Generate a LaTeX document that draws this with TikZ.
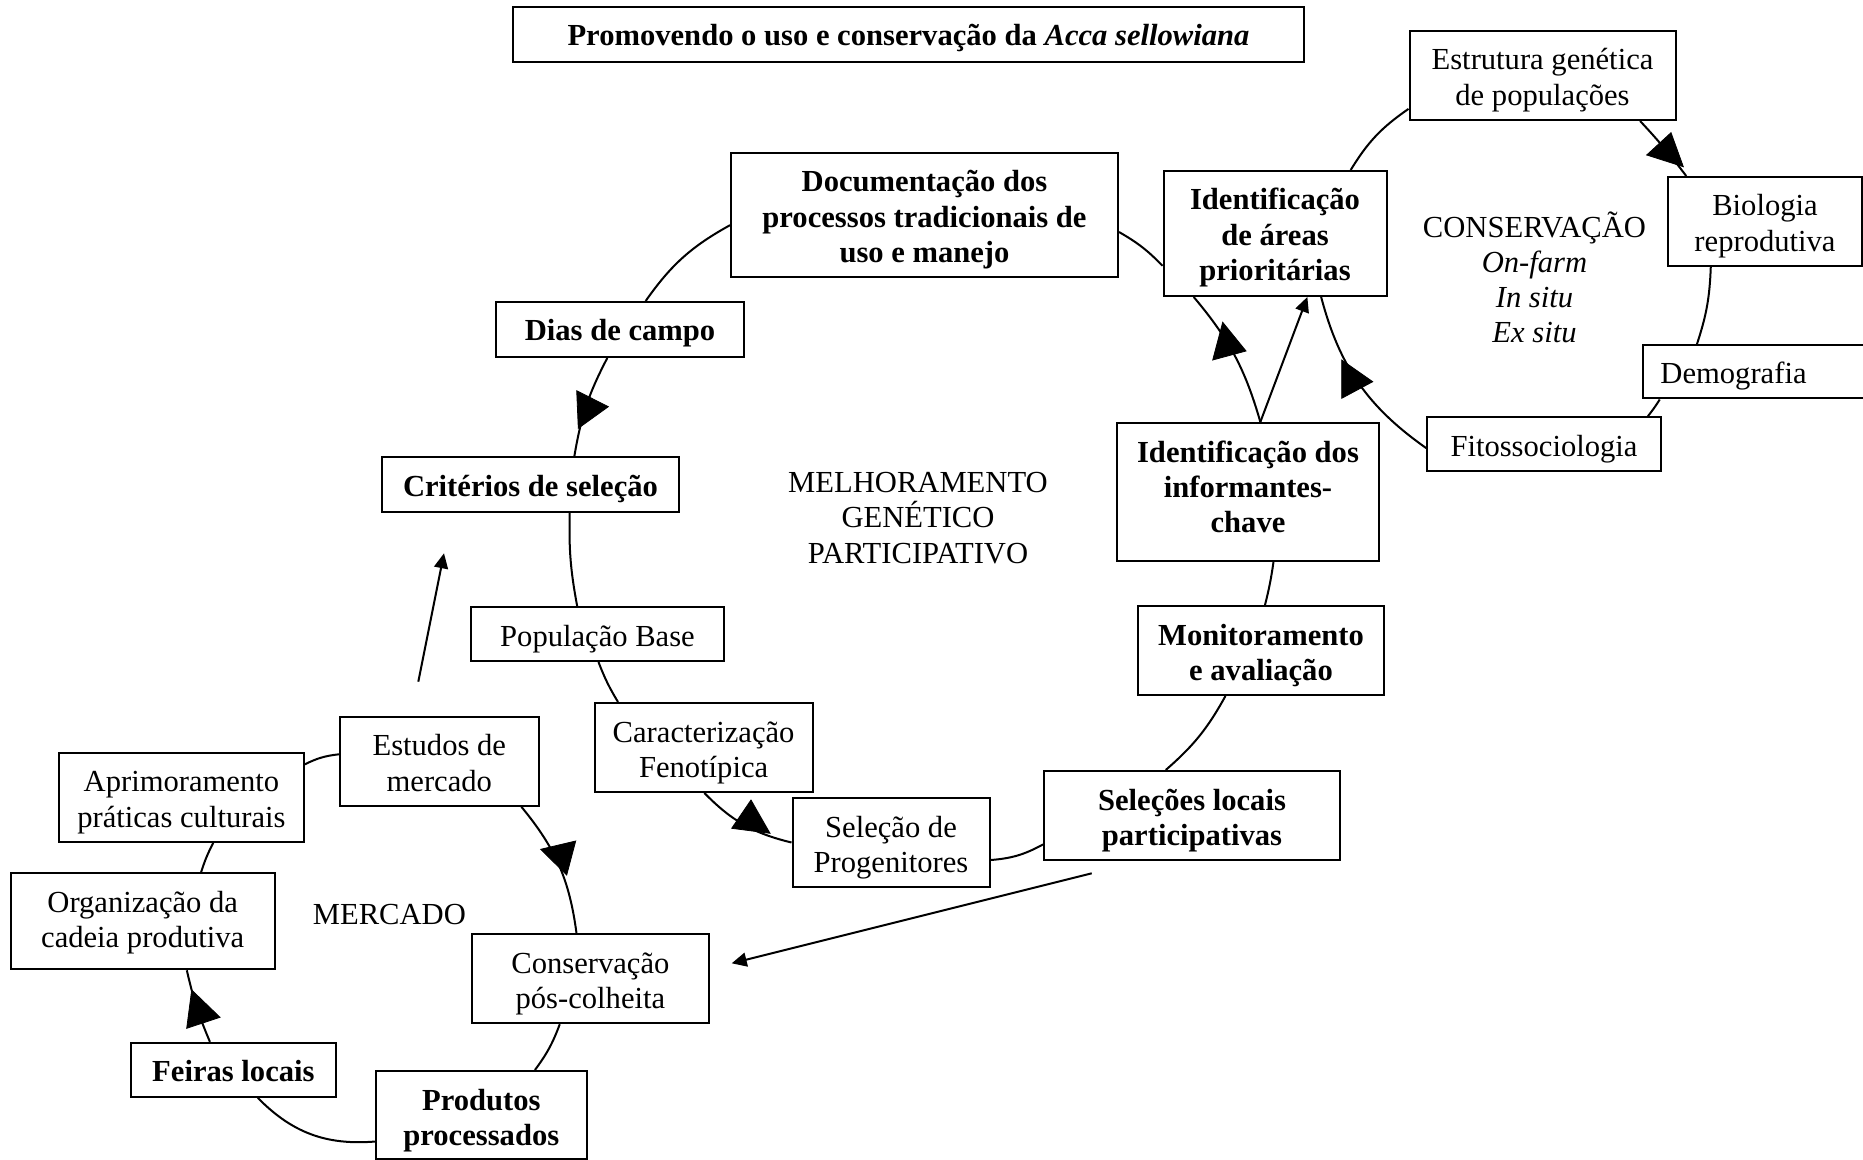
\documentclass[tikz,border=0pt]{standalone}
\usepackage{fontspec}
\setmainfont{Liberation Serif}
\usetikzlibrary{arrows.meta}
% text block anchored at the top of a box of the given height
\newcommand{\ctext}[2]{\vbox to #1{\kern5.5pt\halign{\hfil\vrule height14pt depth3.6pt width0pt\relax##\hfil\cr#2\crcr}\vss}}
\begin{document}
\begin{tikzpicture}[x=0.5pt,y=0.5pt,
  box/.style={draw, line width=1pt, inner sep=0pt, font=\fontsize{15.3pt}{17.6pt}\selectfont},
  bbox/.style={box, font=\fontsize{15.3pt}{17.6pt}\selectfont\bfseries},
  lbl/.style={align=center, inner sep=0pt, font=\fontsize{15.3pt}{17.6pt}\selectfont},
  link/.style={line width=1pt},
  head/.style={fill=black, draw=black, line width=0.4pt, line join=miter},
  arr/.style={line width=1pt, -{Triangle[length=7.5pt,width=7pt]}}]
\useasboundingbox (0,0) rectangle (1863,-1160);

% title
\node[bbox, minimum width=395.5pt, minimum height=27.5pt] (title) at (908.5,-34.5)
  {\ctext{27.5pt}{Promovendo o uso e conservação da \textit{Acca sellowiana}}};

% melhoramento cycle
\node[bbox, minimum width=193.5pt, minimum height=62pt] (doc) at (924.5,-215)
  {\ctext{62pt}{Documentação dos\cr processos tradicionais de\cr uso e manejo}};
\node[bbox, minimum width=124pt, minimum height=27.5pt] (dias) at (620,-329.5) {\ctext{27.5pt}{Dias de campo}};
\node[bbox, minimum width=148.5pt, minimum height=27.5pt] (crit) at (530.5,-484.5) {\ctext{27.5pt}{Critérios de seleção}};
\node[box, minimum width=126.5pt, minimum height=27pt] (popbase) at (597.5,-634) {\ctext{27pt}{População Base}};
\node[box, minimum width=109pt, minimum height=44.5pt] (carac) at (703.6,-747.5) {\ctext{44.5pt}{Caracterização\cr Fenotípica}};
\node[box, minimum width=98.5pt, minimum height=44.5pt] (selprog) at (891,-842.5) {\ctext{44.5pt}{Seleção de\cr Progenitores}};
\node[bbox, minimum width=148pt, minimum height=44.5pt] (sellocais) at (1192,-815.5) {\ctext{44.5pt}{Seleções locais\cr participativas}};
\node[bbox, minimum width=122.75pt, minimum height=44.5pt] (monit) at (1261,-650.5) {\ctext{44.5pt}{Monitoramento\cr e avaliação}};
\node[bbox, minimum width=131pt, minimum height=69pt] (inform) at (1248,-492) {\ctext{69pt}{Identificação dos\cr informantes-\cr chave}};
\node[bbox, minimum width=111.5pt, minimum height=62.5pt] (idareas) at (1275,-233.5) {\ctext{62.5pt}{Identificação\cr de áreas\cr prioritárias}};

% conservation cycle
\node[box, minimum width=133pt, minimum height=44.5pt] (estrut) at (1542.5,-75.5) {\ctext{44.5pt}{Estrutura genética\cr de populações}};
\node[box, minimum width=97pt, minimum height=44.5pt] (biol) at (1765,-221.5) {\ctext{44.5pt}{Biologia\cr reprodutiva}};
\node[box, minimum width=113.5pt, minimum height=26.75pt] (demog) at (1756.5,-371.75) {\ctext{26.75pt}{Demografia\kern23pt}};
\node[box, minimum width=116.8pt, minimum height=26.85pt] (fito) at (1544,-444) {\ctext{26.85pt}{Fitossociologia}};

% market cycle
\node[box, minimum width=99.3pt, minimum height=44.5pt] (estudos) at (439.3,-761.3) {\ctext{44.5pt}{Estudos de\cr mercado}};
\node[box, minimum width=122.5pt, minimum height=44.5pt] (aprim) at (181.4,-797.4) {\ctext{44.5pt}{Aprimoramento\cr práticas culturais}};
\node[box, minimum width=132pt, minimum height=48pt] (organiz) at (142.7,-921.3) {\ctext{48pt}{Organização da\cr cadeia produtiva}};
\node[box, minimum width=118.9pt, minimum height=44.4pt] (conspos) at (590.4,-978.8) {\ctext{44.4pt}{Conservação\cr pós-colheita}};
\node[bbox, minimum width=102.5pt, minimum height=27pt] (feiras) at (233.4,-1069.8) {\ctext{27pt}{Feiras locais}};
\node[bbox, minimum width=105.5pt, minimum height=44pt] (produtos) at (481.3,-1115) {\ctext{44pt}{Produtos\cr processados}};

% free labels
\node[lbl] (melh) at (918,-518) {MELHORAMENTO\\GENÉTICO\\PARTICIPATIVO};
\node[lbl] (cons) at (1534.5,-277.5) {CONSERVAÇÃO\\\textit{On-farm}\\\textit{In situ}\\\textit{Ex situ}};
\node[lbl] (merc) at (389.4,-914.8) {MERCADO};

% melhoramento connectors
\draw[link] (doc.183) to[bend right=13] (dias.48);
\draw[link] (dias.246) to[bend right=9] (crit.33);
\draw[link] (crit.324) to[bend right=6] (popbase.126);
\draw[link] (popbase.272) to[bend right=5] (carac.152);
\draw[link] (carac.271) to[bend right=16] (selprog.180);
\draw[link] (selprog.350) to[bend right=12] (sellocais.191);
\draw[link] (sellocais.120) to[bend right=10] (monit.232);
\draw[link] (monit.85) to[bend right=3] (inform.290);
\draw[link] (inform.80) to[bend right=12] (idareas.218);
\draw[arr] (inform.80) -- (idareas.297);
\draw[link] (idareas.196) to[bend right=8] (doc.355);

% conservation connectors
\draw[link] (idareas.40) to[bend left=12] (estrut.194);
\draw[link] (estrut.335) to[bend left=3] (biol.150);
\draw[link] (biol.220) to[bend left=8] (demog.155);
\draw[link] (demog.196) to[bend left=3] (fito.15);
\draw[link] (fito.182) to[bend left=20] (idareas.306);

% market connectors
\draw[link] (aprim.15) to[bend left=10] (estudos.176);
\draw[link] (organiz.40) to[bend left=5] (aprim.305);
\draw[link] (feiras.130) to[bend left=5] (organiz.312);
\draw[link] (produtos.194) to[bend left=25] (feiras.311);
\draw[link] (conspos.236) to[bend left=8] (produtos.40);
\draw[link] (estudos.331) to[bend left=16] (conspos.107);

% free arrows
\coordinate (a1s) at (418.3,-681.7);
\coordinate (a1e) at (444,-553.3);
\draw[arr] (a1s) -- (a1e);
\coordinate (a2s) at (1091.7,-873.3);
\coordinate (a2e) at (731.7,-963.3);
\draw[arr] (a2s) -- (a2e);

% large arrowheads
\filldraw[head] (576.7,-390.7) -- (578.3,-428.3) -- (608.3,-406.7) -- cycle;
\filldraw[head] (1671,-132.7) -- (1646.7,-155) -- (1683.3,-166.7) -- cycle;
\filldraw[head] (1222.7,-322.3) -- (1212.7,-360) -- (1246,-351) -- cycle;
\filldraw[head] (1341.7,-360) -- (1341.7,-398.3) -- (1372.7,-381.7) -- cycle;
\filldraw[head] (751,-800) -- (731.7,-828.3) -- (770,-833.3) -- cycle;
\filldraw[head] (540.7,-849.3) -- (575.7,-841) -- (566.7,-875) -- cycle;
\filldraw[head] (191.7,-990) -- (186.7,-1028.3) -- (220,-1017.3) -- cycle;
\end{tikzpicture}
\end{document}
